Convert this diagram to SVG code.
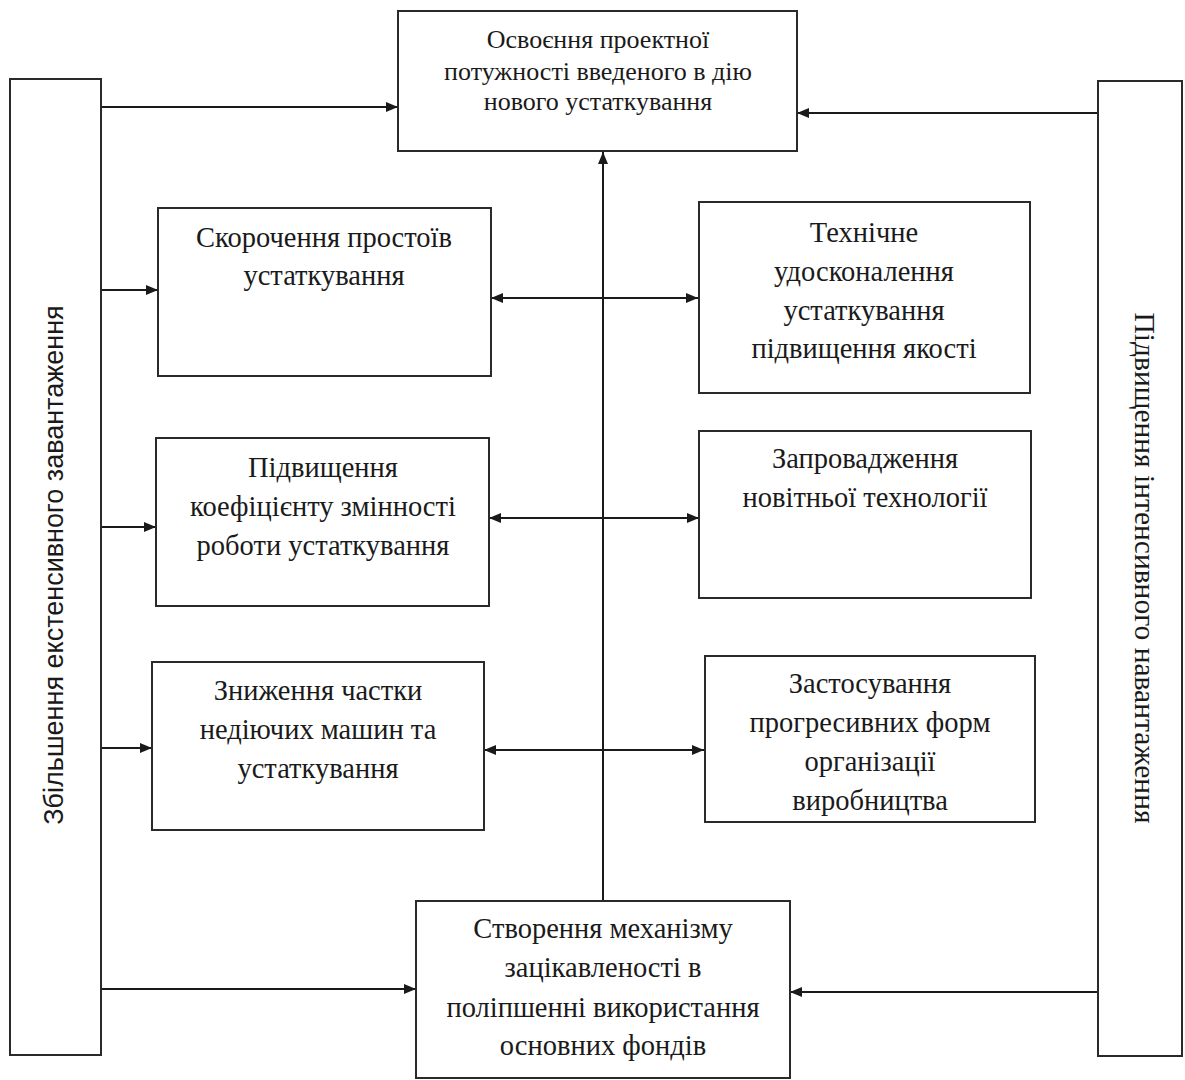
<svg xmlns="http://www.w3.org/2000/svg" width="1185" height="1080" viewBox="0 0 1185 1080">
<defs>
<marker id="ah" viewBox="0 0 12 10" refX="12" refY="5" markerWidth="12" markerHeight="10" markerUnits="userSpaceOnUse" orient="auto-start-reverse">
<path d="M0,0 L12,5 L0,10 z" fill="#1a1a1a"/>
</marker>
<style>
.box{fill:#fff;stroke:#2a2a2a;stroke-width:2}
.t{font-family:"Liberation Serif","Times New Roman",serif;font-size:28.5px;fill:#1a1a1a;text-anchor:middle}
.ts{font-family:"Liberation Serif","Times New Roman",serif;font-size:26px;fill:#1a1a1a;text-anchor:middle}
.vs{font-family:"Liberation Sans",Arial,sans-serif;font-size:27px;fill:#1a1a1a;text-anchor:middle}
.vr{font-family:"Liberation Serif","Times New Roman",serif;font-size:29.5px;fill:#1a1a1a;text-anchor:middle}
.c{stroke:#1a1a1a;stroke-width:2;fill:none}
</style>
</defs>
<rect width="1185" height="1080" fill="#fff"/>
<g id="connectors">
<line class="c" x1="101" y1="107" x2="398" y2="107" marker-end="url(#ah)"/>
<line class="c" x1="101" y1="290" x2="158" y2="290" marker-end="url(#ah)"/>
<line class="c" x1="101" y1="527" x2="156" y2="527" marker-end="url(#ah)"/>
<line class="c" x1="101" y1="748" x2="152" y2="748" marker-end="url(#ah)"/>
<line class="c" x1="101" y1="989" x2="416" y2="989" marker-end="url(#ah)"/>
<line class="c" x1="1098" y1="113" x2="797" y2="113" marker-end="url(#ah)"/>
<line class="c" x1="1098" y1="992" x2="790" y2="992" marker-end="url(#ah)"/>
<line class="c" x1="491" y1="298" x2="698" y2="298" marker-start="url(#ah)" marker-end="url(#ah)"/>
<line class="c" x1="489" y1="518" x2="699" y2="518" marker-start="url(#ah)" marker-end="url(#ah)"/>
<line class="c" x1="484" y1="750" x2="704" y2="750" marker-start="url(#ah)" marker-end="url(#ah)"/>
<line class="c" x1="603" y1="901" x2="603" y2="152" marker-end="url(#ah)"/>
</g>
<g id="left-bar">
<rect class="box" x="10" y="79" width="91" height="976"/>
<text class="vs" transform="translate(63,565) rotate(-90)">Збільшення екстенсивного завантаження</text>
</g>
<g id="right-bar">
<rect class="box" x="1098" y="81" width="84" height="975"/>
<text class="vr" transform="translate(1135,568) rotate(90)">Підвищення інтенсивного навантаження</text>
</g>
<g id="top">
<rect class="box" x="398" y="11" width="399" height="140"/>
<text class="ts" x="598" y="48">Освоєння проектної</text>
<text class="ts" x="598" y="80">потужності введеного в дію</text>
<text class="ts" x="598" y="110">нового устаткування</text>
</g>
<g id="skorochennia">
<rect class="box" x="158" y="208" width="333" height="168"/>
<text class="t" x="324" y="247">Скорочення простоїв</text>
<text class="t" x="324" y="285">устаткування</text>
</g>
<g id="tekhnichne">
<rect class="box" x="699" y="202" width="331" height="191"/>
<text class="t" x="864" y="242">Технічне</text>
<text class="t" x="864" y="281">удосконалення</text>
<text class="t" x="864" y="320">устаткування</text>
<text class="t" x="864" y="358">підвищення якості</text>
</g>
<g id="pidvyshchennia">
<rect class="box" x="156" y="438" width="333" height="168"/>
<text class="t" x="323" y="477">Підвищення</text>
<text class="t" x="323" y="516">коефіцієнту змінності</text>
<text class="t" x="323" y="555">роботи  устаткування</text>
</g>
<g id="zaprovadzhennia">
<rect class="box" x="699" y="431" width="332" height="167"/>
<text class="t" x="865" y="468">Запровадження</text>
<text class="t" x="865" y="507">новітньої технології</text>
</g>
<g id="znyzhennia">
<rect class="box" x="152" y="662" width="332" height="168"/>
<text class="t" x="318" y="700">Зниження частки</text>
<text class="t" x="318" y="739">недіючих машин та</text>
<text class="t" x="318" y="778">устаткування</text>
</g>
<g id="zastosuvannia">
<rect class="box" x="705" y="656" width="330" height="166"/>
<text class="t" x="870" y="693">Застосування</text>
<text class="t" x="870" y="732">прогресивних форм</text>
<text class="t" x="870" y="771">організації</text>
<text class="t" x="870" y="810">виробництва</text>
</g>
<g id="bottom">
<rect class="box" x="416" y="901" width="374" height="177"/>
<text class="t" x="603" y="938">Створення механізму</text>
<text class="t" x="603" y="977">зацікавленості в</text>
<text class="t" x="603" y="1017">поліпшенні використання</text>
<text class="t" x="603" y="1055">основних фондів</text>
</g>
</svg>
